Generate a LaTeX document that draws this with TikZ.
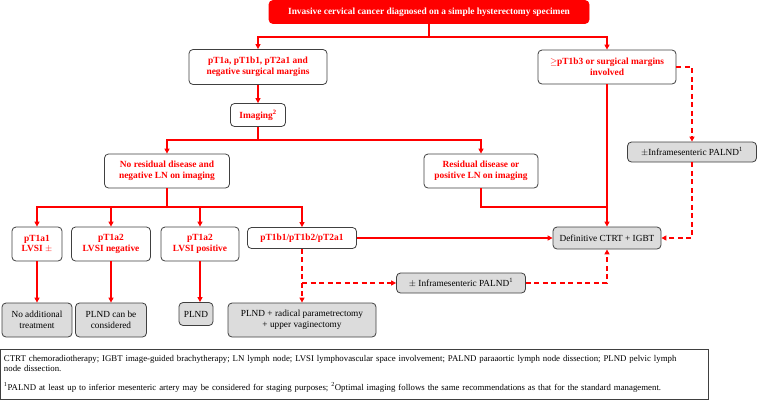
\documentclass[tikz,border=0pt]{standalone}
\usepackage{fontspec}
\setmainfont{Liberation Serif}
\usepackage{tikz}
\usetikzlibrary{calc, positioning, arrows.meta}
\definecolor{Rojo}{RGB}{255,0,0}
\definecolor{Borde}{RGB}{64,64,64}
\definecolor{Gris}{RGB}{220,220,220}

\begin{document}
\begin{tikzpicture}[x=1pt, y=-1pt,
  rbox/.style={rectangle, rounded corners=4pt, draw=Borde, line width=0.8pt,
               fill=white, text=Rojo, align=center, inner sep=1pt,
               font=\bfseries\fontsize{9.4}{10.5}\selectfont},
  gbox/.style={rectangle, rounded corners=4pt, draw=Borde, line width=0.8pt,
               fill=Gris, text=black, align=center, inner sep=1pt,
               font=\fontsize{9.3}{10.5}\selectfont},
  sz/.style 2 args={minimum width=#1pt, minimum height=#2pt},
  ln/.style={draw=Rojo, line width=1.3pt},
  arr/.style={ln, -{Triangle[length=5pt, width=5pt, fill=Rojo]}},
  darr/.style={arr, dash pattern=on 5pt off 3.5pt}
]
\useasboundingbox (0,0) rectangle (758,400);

%% Nivel 1
\node[rbox, fill=Rojo, text=white, draw=Rojo, sz={320}{23}] (top) at (429,12)
  {Invasive cervical cancer diagnosed on a simple hysterectomy specimen};

%% Nivel 2
\node[rbox, sz={138}{35}] (neg) at (258,67)
  {pT1a, pT1b1, pT2a1 and\\negative surgical margins};
\node[rbox, sz={138}{34}] (inv) at (607,67)
  {$\geq$pT1b3 or surgical margins\\involved};
\node[rbox, sz={55}{23}] (img) at (258,115) {Imaging\textsuperscript{2}};
\node[gbox, sz={129}{20}] (pa1) at (692,152)
  {$\pm$Inframesenteric PALND\textsuperscript{1}};

%% Nivel 3
\node[rbox, sz={125}{34}] (nores) at (167,171)
  {No residual disease and\\negative LN on imaging};
\node[rbox, sz={114}{34}] (res) at (481,171)
  {Residual disease or\\positive LN on imaging};

%% Nivel 4
\node[rbox, sz={50}{34}] (c1) at (37,244) {pT1a1\\LVSI $\pm$};
\node[rbox, sz={79}{34}] (c2) at (111,244) {pT1a2\\LVSI negative};
\node[rbox, sz={78}{34}] (c3) at (200,244) {pT1a2\\LVSI positive};
\node[rbox, sz={109}{21}] (c4) at (302,238) {pT1b1/pT1b2/pT2a1};
\node[gbox, sz={108}{22}] (def) at (607,238) {Definitive CTRT + IGBT};
\node[gbox, sz={129}{20}] (pa2) at (461,283)
  {$\pm$ Inframesenteric PALND\textsuperscript{1}};

%% Nivel 5
\node[gbox, sz={70}{34}] (g1) at (37,320) {No additional\\treatment};
\node[gbox, sz={71}{34}] (g2) at (111,320) {PLND can be\\considered};
\node[gbox, sz={34}{23}] (g3) at (196,314) {PLND};
\node[gbox, sz={148}{34}] (g4) at (302,320)
  {PLND + radical parametrectomy\\+ upper vaginectomy};

%% Leyenda
\node[draw=Borde, line width=0.9pt, fill=white, minimum width=708pt, minimum height=50pt,
      text width=700pt, align=left, inner sep=0pt, font=\fontsize{8.8}{9.5}\selectfont]
  (ley) at (354,374)
  {CTRT chemoradiotherapy; IGBT image-guided brachytherapy; LN lymph node; LVSI lymphovascular space involvement; PALND paraaortic lymph node dissection; PLND pelvic lymph\\
   node dissection.\\[10pt]
   \textsuperscript{1}PALND at least up to inferior mesenteric artery may be considered for staging purposes; \textsuperscript{2}Optimal imaging follows the same recommendations as that for the standard management.};

%% Conectores
\coordinate (j1) at (429,37);
\coordinate (j2) at (258,140);
\coordinate (j3) at (167,207);
\coordinate (j4) at (607,207);
\coordinate (j5) at (692,67);

\draw[ln] (top.south) -- (j1);
\draw[arr] (j1) -| (neg.north);
\draw[arr] (j1) -| (inv.north);
\draw[arr] (neg.south) -- (img.north);
\draw[ln] (img.south) -- (j2);
\draw[arr] (j2) -| (nores.north);
\draw[arr] (j2) -| (res.north);
\draw[ln] (nores.south) -- (j3);
\foreach \k in {c1, c2, c3, c4}
  \draw[arr] (j3) -| (\k.north);
\draw[arr] (c1.south) -- (g1.north);
\draw[arr] (c2.south) -- (g2.north);
\draw[arr] (c3.south) -- (c3.south |- g3.north);
\draw[arr] (c4.east) -- (def.west);
\draw[ln] (res.south) |- (j4);
\draw[arr] (inv.south) -- (def.north);

%% Ramas discontinuas
\draw[darr] (inv.east) -- (j5) -- (pa1.north);
\draw[darr] (pa1.south) |- (def.east);
\draw[darr] (c4.south) -- (g4.north);
\draw[darr] (c4.south |- pa2.west) -- (pa2.west);
\draw[darr] (pa2.east) -| (def.south);

\end{tikzpicture}
\end{document}
